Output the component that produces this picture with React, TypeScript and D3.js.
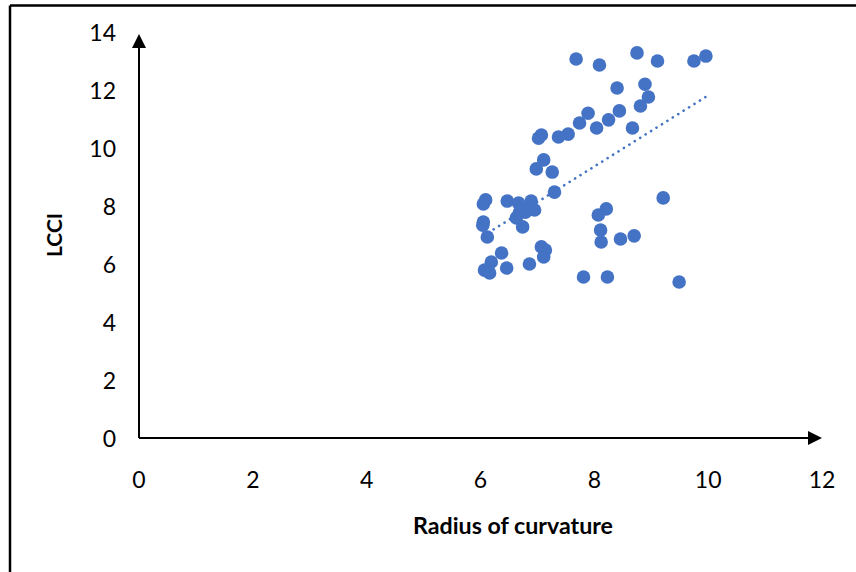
import React, { useEffect } from "react";
import * as d3 from "d3";

// radius of curvature (x) and LCCI (y)
const radius = [
  7.68, 8.09, 8.75, 9.11, 9.75, 9.96, 8.4, 8.89, 8.95, 8.81, 8.44, 7.89, 8.25, 7.74, 8.04, 8.67,
  7.54, 7.37, 7.07, 7.02, 7.11, 6.98, 7.26, 7.3,
  6.09, 6.05, 6.47, 6.67, 6.89, 6.95, 6.68, 6.63, 6.74, 6.79, 6.72, 6.05, 6.04, 6.12,
  6.37, 6.19, 6.07, 6.16, 6.46, 6.86, 7.07, 7.14, 7.11,
  9.21, 8.21, 8.07, 8.11, 8.12, 8.46, 8.7, 7.81, 8.23, 9.49,
];
const lcci = [
  13.07, 12.86, 13.28, 13.0, 13.0, 13.17, 12.07, 12.2, 11.76, 11.45, 11.28, 11.2, 10.97, 10.86, 10.69, 10.69,
  10.48, 10.38, 10.45, 10.34, 9.59, 9.28, 9.17, 8.48,
  8.21, 8.07, 8.17, 8.1, 8.17, 7.86, 7.76, 7.59, 7.28, 7.79, 7.93, 7.45, 7.34, 6.93,
  6.38, 6.07, 5.79, 5.69, 5.86, 6.0, 6.59, 6.48, 6.24,
  8.28, 7.9, 7.69, 7.17, 6.76, 6.86, 6.97, 5.55, 5.55, 5.38,
];
const xTicks = [0, 2, 4, 6, 8, 10, 12];
const yTicks = [0, 2, 4, 6, 8, 10, 12, 14];

const W = 856;
const H = 572;
const font = "Lato, 'Open Sans', sans-serif";

export default function App() {
  useEffect(() => {
    document.body.style.margin = "0";
  }, []);

  const x = d3.scaleLinear().domain([0, 12]).range([139, 822]);
  const y = d3.scaleLinear().domain([0, 14]).range([438, 32]);

  const pts = radius.map((r, i) => ({ r, v: lcci[i] }));

  // linear trendline (least squares) over the range of the data
  const mx = d3.mean(radius) as number;
  const my = d3.mean(lcci) as number;
  const sxy = d3.sum(pts, (d) => (d.r - mx) * (d.v - my));
  const sxx = d3.sum(pts, (d) => (d.r - mx) ** 2);
  const slope = sxy / sxx;
  const icpt = my - slope * mx;
  const [x0, x1] = d3.extent(radius) as [number, number];
  const trend = d3
    .line<number>()
    .x((d) => x(d))
    .y((d) => y(icpt + slope * d))([x0, x1]);

  return (
    <svg width={W} height={H} style={{ display: "block", background: "#fff" }}>
      {/* frame */}
      <line x1={10} y1={5.5} x2={W} y2={5.5} stroke="#000" strokeWidth={2.5} />
      <line x1={10} y1={5.5} x2={10} y2={H} stroke="#000" strokeWidth={2.5} />

      {/* axes with arrowheads */}
      <line x1={x(0)} y1={y(0)} x2={x(0)} y2={46} stroke="#000" strokeWidth={2} />
      <path d={`M${x(0)},34 L${x(0) - 7},48 L${x(0) + 7},48 Z`} fill="#000" />
      <line x1={x(0)} y1={y(0)} x2={810} y2={y(0)} stroke="#000" strokeWidth={2} />
      <path d={`M822,${y(0)} L808,${y(0) - 7} L808,${y(0) + 7} Z`} fill="#000" />

      {yTicks.map((t) => (
        <text
          key={"y" + t}
          x={116}
          y={y(t)}
          textAnchor="end"
          dominantBaseline="central"
          fontFamily={font}
          fontSize={23}
          fill="#000"
        >
          {t}
        </text>
      ))}
      {xTicks.map((t) => (
        <text
          key={"x" + t}
          x={x(t)}
          y={479}
          textAnchor="middle"
          dominantBaseline="central"
          fontFamily={font}
          fontSize={23}
          fill="#000"
        >
          {t}
        </text>
      ))}

      <text
        x={513}
        y={534}
        textAnchor="middle"
        fontFamily={font}
        fontSize={23}
        fontWeight="bold"
        fill="#000"
        textLength={200}
        lengthAdjust="spacingAndGlyphs"
      >
        Radius of curvature
      </text>
      <text
        transform="translate(62,235) rotate(-90)"
        textAnchor="middle"
        fontFamily={font}
        fontSize={20}
        fontWeight="bold"
        fill="#000"
        textLength={44}
        lengthAdjust="spacingAndGlyphs"
      >
        LCCI
      </text>

      {pts.map((d, i) => (
        <circle key={i} cx={x(d.r)} cy={y(d.v)} r={6.8} fill="#4472C4" />
      ))}

      <path
        d={trend ?? ""}
        fill="none"
        stroke="#4472C4"
        strokeWidth={2.6}
        strokeLinecap="round"
        strokeDasharray="0.1 6.3"
      />
    </svg>
  );
}
